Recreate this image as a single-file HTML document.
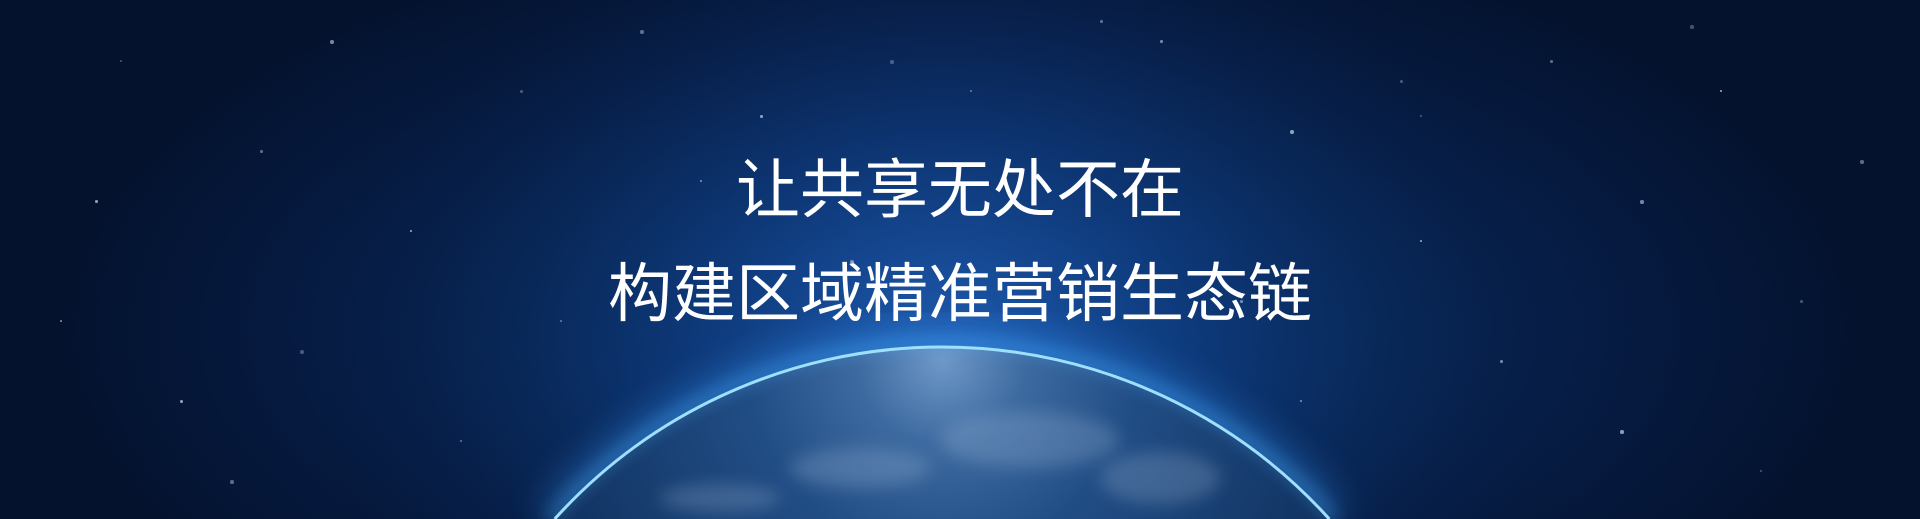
<!DOCTYPE html>
<html lang="zh">
<head>
<meta charset="utf-8">
<style>
  html,body{margin:0;padding:0;width:1920px;height:519px;overflow:hidden;background:#04122e;}
  #wrap{width:1920px;height:519px;overflow:hidden;position:relative;
    background:radial-gradient(ellipse 900px 420px at 960px 330px,#0b3a78 0%,#082a5c 40%,#061c44 70%,#04122e 100%);
    font-family:"Liberation Sans","Noto Sans CJK SC",sans-serif;}
  svg.scene{position:absolute;left:0;top:0;display:block;}
  .t{position:absolute;left:0;width:1920px;text-align:center;color:#fff;font-size:64px;line-height:1;}
  .star{position:absolute;border-radius:50%;background:#9fb6d8;}
</style>
</head>
<body>
<div id="wrap">
  <svg class="scene" width="1920" height="519" viewBox="0 0 1920 519">
    <defs>
      <radialGradient id="glowG" cx="942" cy="380" r="650" gradientUnits="userSpaceOnUse">
        <stop offset="0" stop-color="#3d8cff" stop-opacity="0.45"/>
        <stop offset="0.4" stop-color="#1f5fc8" stop-opacity="0.2"/>
        <stop offset="1" stop-color="#000" stop-opacity="0"/>
      </radialGradient>
      <radialGradient id="earthG" cx="942" cy="360" r="560" gradientUnits="userSpaceOnUse">
        <stop offset="0" stop-color="#6f98c8"/>
        <stop offset="0.15" stop-color="#3d6aa0"/>
        <stop offset="0.35" stop-color="#214d85"/>
        <stop offset="0.7" stop-color="#123564"/>
        <stop offset="1" stop-color="#0a2450"/>
      </radialGradient>
      <filter id="blur8" x="-10%" y="-10%" width="120%" height="120%"><feGaussianBlur stdDeviation="8"/></filter>
      <filter id="blur20" x="-10%" y="-20%" width="120%" height="140%"><feGaussianBlur stdDeviation="20"/></filter>
    </defs>
    <rect x="0" y="0" width="1920" height="519" fill="url(#glowG)"/>
    <path d="M554.7 519 A522 522 0 0 1 1329.3 519" fill="none" stroke="#3aa0ff" stroke-width="30" opacity="0.5" filter="url(#blur20)"/>
    <path d="M554.7 519 A522 522 0 0 1 1329.3 519 Z" fill="url(#earthG)"/>
    <g opacity="0.2" filter="url(#blur8)" fill="#c8dcf0">
      <ellipse cx="1030" cy="440" rx="90" ry="28"/>
      <ellipse cx="860" cy="468" rx="70" ry="20"/>
      <ellipse cx="1160" cy="478" rx="60" ry="26"/>
      <ellipse cx="720" cy="498" rx="60" ry="14"/>
    </g>
    <path d="M554.7 519 A522 522 0 0 1 1329.3 519" fill="none" stroke="#aee8ff" stroke-width="3"/>
    <path d="M549.3 519 A526 526 0 0 1 1334.7 519" fill="none" stroke="#4fb4ff" stroke-width="6" opacity="0.6" filter="url(#blur8)"/>
  </svg>
  <div class="t" style="top:158px">让共享无处不在</div>
  <div class="t" style="top:262px">构建区域精准营销生态链</div>
  <div id="stars"></div>
</div>
<script>
  const starPts=[[120,60],[260,150],[330,40],[410,230],[520,90],[640,30],[700,180],[760,115],[890,60],[970,90],[1160,40],[1290,130],[1420,115],[1550,60],[1640,200],[1720,90],[1800,300],[1860,160],[60,320],[180,400],[300,350],[460,440],[1500,360],[1620,430],[1760,470],[1100,20],[850,260],[1420,240],[1400,80],[230,480],[1300,400],[95,200],[1690,25],[560,320],[1240,300]];
  const c=document.getElementById('stars');
  starPts.forEach((p,i)=>{
    const s=document.createElement('div');
    s.className='star';
    
    
    const r=(i%3)+1.5;
    s.style.left=p[0]+'px';s.style.top=p[1]+'px';s.style.width=r+'px';s.style.height=r+'px';
    s.style.opacity=0.4+(i%4)*0.15;
    c.appendChild(s);
  });
</script>
</body>
</html>
